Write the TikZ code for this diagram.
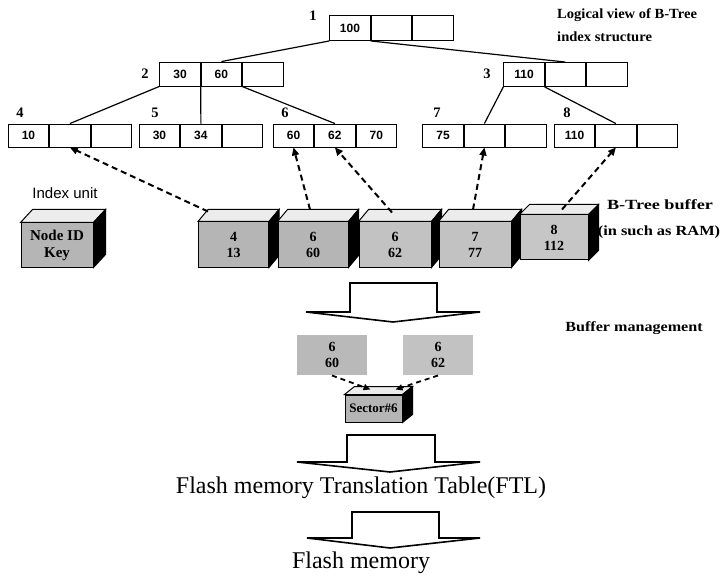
\documentclass[tikz,border=0pt]{standalone}
\usepackage{fontspec}
\setmainfont{Liberation Serif}
\newfontfamily\arialfont{Liberation Sans}
\usetikzlibrary{calc,arrows.meta}
\tikzset{
  cell/.style={draw,line width=0.9pt,minimum width=40.5pt,minimum height=25pt,inner sep=0pt,font=\arialfont\fontsize{12}{14}\selectfont\bfseries},
  lbl/.style={font=\fontsize{14.5}{16}\selectfont\bfseries,inner sep=0pt},
  edge/.style={line width=1.2pt},
  front/.style={draw,line width=1pt,fill=gray!58,inner sep=0pt,align=center,font=\fontsize{14}{16}\selectfont\bfseries},
  dasharrow/.style={line width=2pt,dash pattern=on 6pt off 4pt,-{Triangle[length=8pt,width=7pt]}},
  hollow/.style={draw,line width=1.6pt,fill=white,line join=miter},
  note/.style={font=\fontsize{14}{16}\selectfont\bfseries,inner sep=0pt},
}
\newcommand\cubefaces[3]{%
  \filldraw[fill=gray!15,line width=1pt] (#1.north west) -- ++(#2,-#3) -- ($(#1.north east)+(#2,-#3)$) -- (#1.north east) -- cycle;
  \filldraw[fill=black,line width=1pt] (#1.north east) -- ++(#2,-#3) -- ($(#1.south east)+(#2,-#3)$) -- (#1.south east) -- cycle;}
\begin{document}
\begin{tikzpicture}[x=1pt,y=-1pt]
\useasboundingbox (0,0) rectangle (723,580);
% tree nodes
\node[cell] (n1a) at (350,28) {100};
\node[cell,anchor=west] (n1b) at (n1a.east) {};
\node[cell,anchor=west] (n1c) at (n1b.east) {};
\node[cell,minimum height=24pt] (n2a) at (180,74) {30};
\node[cell,minimum height=24pt,anchor=west] (n2b) at (n2a.east) {60};
\node[cell,minimum height=24pt,anchor=west] (n2c) at (n2b.east) {};
\node[cell,minimum height=24pt] (n3a) at (524,74.5) {110};
\node[cell,minimum height=24pt,anchor=west] (n3b) at (n3a.east) {};
\node[cell,minimum height=24pt,anchor=west] (n3c) at (n3b.east) {};
\foreach \n/\x/\a/\b/\c in {4/28.5/10//, 5/159.5/30/34/, 6/293.5/60/62/70, 7/443/75//, 8/574.5/110//}{
  \node[cell,minimum height=23pt] (n\n a) at (\x,135.5) {\a};
  \node[cell,minimum height=23pt,anchor=west] (n\n b) at (n\n a.east) {\b};
  \node[cell,minimum height=23pt,anchor=west] (n\n c) at (n\n b.east) {\c};
}
% node numbers
\node[lbl] (l1) at (313,16) {1};
\node[lbl] (l2) at (145,74) {2};
\node[lbl] (l3) at (487,74) {3};
\node[lbl] (l4) at (20,113) {4};
\node[lbl] (l5) at (155,113) {5};
\node[lbl] (l6) at (285,113) {6};
\node[lbl] (l7) at (437,113) {7};
\node[lbl] (l8) at (567,113) {8};
% tree edges
\draw[edge] (n1a.south west) -- (n2b.north);
\draw[edge] (n1a.south east) -- (n3b.north);
\draw[edge] (n2a.south west) -- (n4b.north);
\draw[edge] (n2a.south east) -- (n5b.north);
\draw[edge] (n2b.south east) -- (n6b.north);
\draw[edge] (n3a.south west) -- (n7b.north);
\draw[edge] (n3a.south east) -- (n8b.north);
% titles
\node[note,anchor=west] (t1) at (557,15) {\scalebox{1.04}[1]{Logical view of B-Tree}};
\node[note,anchor=west] (t2) at (557,37) {\scalebox{1.04}[1]{index structure}};
\node[font=\arialfont\fontsize{15}{17}\selectfont] (iu) at (65,193) {Index unit};
\node[note] (bt1) at (660,205) {\scalebox{1.3}[1]{B-Tree buffer}};
\node[note] (bt2) at (659,232) {\scalebox{1.17}[1]{(in such as RAM)}};
\node[note] (bm) at (634,328) {\scalebox{1.15}[1]{Buffer management}};
% cubes
\node[front,minimum width=72pt,minimum height=44pt,font=\fontsize{15}{17}\selectfont\bfseries] (ci) at (57,245) {Node ID\\Key};
\cubefaces{ci}{12}{13}
\node[front,minimum width=70pt,minimum height=45pt] (c1) at (233.5,244.5) {4\\13};
\cubefaces{c1}{10}{12}
\node[front,minimum width=70pt,minimum height=45pt] (c2) at (313,244.5) {6\\60};
\cubefaces{c2}{10}{12}
\node[front,minimum width=72pt,minimum height=45pt,fill=gray!48] (c3) at (395,244.5) {6\\62};
\cubefaces{c3}{10}{12}
\node[front,minimum width=72pt,minimum height=45pt,fill=gray!48] (c4) at (475,244.5) {7\\77};
\cubefaces{c4}{10}{12}
\node[front,minimum width=68pt,minimum height=45pt,fill=gray!45] (c5) at (554,237.5) {8\\112};
\cubefaces{c5}{10}{10}
% dashed arrows to tree
\draw[dasharrow] ($(c1.north west)+(10,-10)$) -- (n4b.south);
\draw[dasharrow] ($(c2.north)+(-3,-12)$) -- (n6a.south);
\draw[dasharrow] ($(c3.north)+(-3,-9)$) -- (n6b.south);
\draw[dasharrow] ($(c4.north)+(-2,-12)$) -- (n7b.south);
\draw[dasharrow] ($(c5.north)+(8,-5)$) -- (n8b.south);
% arrow 1
\draw[hollow] (350,283) -- (437,283) -- (437,312) -- (480,312) -- (393,322) -- (306,312) -- (350,312) -- cycle;
% buffer management
\node[front,minimum width=70pt,minimum height=40pt,draw=none,fill=gray!55] (bl) at (332,355) {6\\60};
\node[front,minimum width=70pt,minimum height=40pt,draw=none,fill=gray!48] (br) at (438,355) {6\\62};
\node[front,minimum width=57pt,minimum height=27pt,font=\fontsize{13}{15}\selectfont\bfseries] (sec) at (373.5,408.5) {Sector\#6};
\cubefaces{sec}{10}{8}
\draw[line width=1.8pt,dash pattern=on 5pt off 4pt,-{Triangle[length=7pt,width=6pt]}] (bl.south) -- ($(sec.north)+(-3,-5)$);
\draw[line width=1.8pt,dash pattern=on 5pt off 4pt,-{Triangle[length=7pt,width=6pt]}] (br.south) -- ($(sec.north)+(22,-5)$);
% arrow 2
\draw[hollow] (347,435) -- (435,435) -- (435,462) -- (480,462) -- (390,472) -- (297,462) -- (347,462) -- cycle;
\node[font=\fontsize{24}{28}\selectfont] (ftl) at (361,488) {Flash memory Translation Table(FTL)};
% arrow 3
\draw[hollow] (352,512) -- (439,512) -- (439,538) -- (480,538) -- (390,548) -- (307,538) -- (352,538) -- cycle;
\node[font=\fontsize{24}{28}\selectfont] (fm) at (361,563) {Flash memory};
\end{tikzpicture}
\end{document}
